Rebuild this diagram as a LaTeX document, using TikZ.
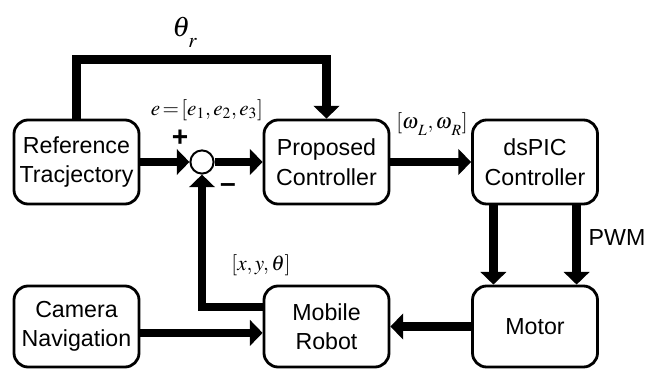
\documentclass[tikz,border=0pt]{standalone}
\usepackage{mathptmx}
\usepackage{fontspec}
\setmainfont{Liberation Sans}
\usetikzlibrary{arrows.meta, positioning, calc}
\newcommand{\lowsub}[2][2.5pt]{_{\kern1pt\raisebox{-#1}{$\scriptstyle #2$}}}
\tikzset{
  every picture/.style={line width=2pt},
  box/.style={draw, rounded corners=10pt, align=center, minimum width=3.125cm, minimum height=#1, inner sep=0pt, font=\fontsize{16.5}{21}\selectfont},
  box/.default=2.1cm,
  arrow/.style={-{Triangle[length=9pt, width=18pt]}, line width=6pt},
  mathlab/.style={font=\fontsize{15}{17}\selectfont},
  sign/.style={font=\fontsize{20}{20}\selectfont\bfseries},
}
\begin{document}
\begin{tikzpicture}
  \useasboundingbox (0,0) rectangle (16.425,9.2);
  % upper row
  \node[box] (ref) at (1.9125,5.15) {Reference\\Tracjectory};
  \node[box] (prop) at (8.1625,5.15) {Proposed\\Controller};
  \node[box] (dsp) at (13.375,5.15) {dsPIC\\Controller};
  \node[draw, circle, minimum size=0.58cm, inner sep=0pt, line width=1.4pt] (sum) at (5.05,5.15) {};
  % lower row
  \node[box=2.025cm] (cam) at (1.9125,1.0375) {Camera\\Navigation};
  \node[box=2.025cm] (robot) at (8.1625,1.0375) {Mobile\\Robot};
  \node[box=2.025cm] (motor) at (13.375,1.0375) {Motor};
  % labels
  \node[font=\fontsize{20}{22}\selectfont] (thr) at (4.625,8.4) {$\theta\lowsub[5pt]{r}$};
  \node[mathlab] (err) at (5.175,6.45) {$e\!=\![e_1,e_2,e_3]$};
  \node[mathlab] (wlr) at (10.8,6.1) {$[\omega\lowsub{L},\omega\lowsub{R}]$};
  \node[mathlab] (pose) at (6.525,2.575) {$[x,y,\theta]$};
  \node[sign] (plus) at (4.5,5.75) {+};
  \node[sign] (minus) at (5.7,4.5) {\textendash};
  \node[font=\fontsize{16.5}{20}\selectfont] (pwm) at (15.425,3.25) {PWM};
  % connectors
  \draw[arrow] (ref.north) -- ++(0,1.475) -| (prop.north);
  \draw[arrow] (ref.east) -- (sum.west);
  \draw[arrow] (sum.east) -- (prop.west);
  \draw[arrow] (prop.east) -- (dsp.west);
  \draw[arrow] ([xshift=-1.04cm]dsp.south) -- ([xshift=-1.04cm]motor.north);
  \draw[arrow] ([xshift=1.04cm]dsp.south) -- ([xshift=1.04cm]motor.north);
  \draw[arrow] (motor.west) -- (robot.east);
  \draw[arrow] ([yshift=-0.16cm]cam.east) -- ([yshift=-0.16cm]robot.west);
  \draw[arrow] ([yshift=0.49cm]robot.west) -| (sum.south);
\end{tikzpicture}
\end{document}
